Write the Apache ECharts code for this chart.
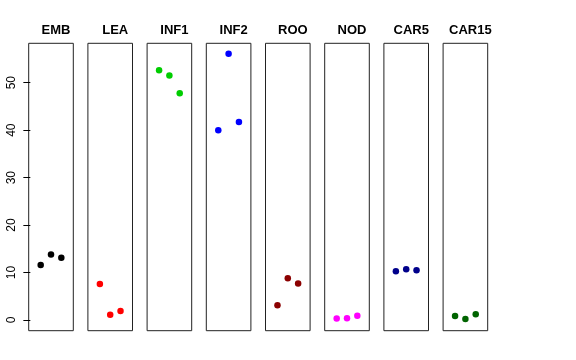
<!DOCTYPE html>
<html>
<head>
<meta charset="utf-8">
<script src="https://cdn.jsdelivr.net/npm/echarts@6/dist/echarts.min.js"></script>
<style>html,body{margin:0;padding:0;background:#fff}#c{width:576px;height:360px}</style>
</head>
<body>
<div id="c"></div>
<script>
var categories = ['EMB', 'LEA', 'INF1', 'INF2', 'ROO', 'NOD', 'CAR5', 'CAR15'];
var replicates = [1, 2, 3];
var EMB = [11.6, 13.8, 13.1];
var LEA = [7.6, 1.1, 1.9];
var INF1 = [52.6, 51.5, 47.8];
var INF2 = [40.0, 56.1, 41.7];
var ROO = [3.1, 8.8, 7.7];
var NOD = [0.3, 0.35, 0.9];
var CAR5 = [10.3, 10.7, 10.5];
var CAR15 = [0.85, 0.2, 1.2];
var yTicks = [0, 10, 20, 30, 40, 50];
var colors = ['#000000', '#FF0000', '#00CD00', '#0000FF', '#8B0000', '#FF00FF', '#00008B', '#006400'];
var groups = [EMB, LEA, INF1, INF2, ROO, NOD, CAR5, CAR15];

(function () {
  var chart = echarts.init(document.getElementById('c'));
  var grids = [], xAxes = [], yAxes = [], series = [], titles = [];
  var left0 = 28.7, pitch = 59.2, pw = 44.6, ptop = 43.3, ph = 287.4;
  categories.forEach(function (name, i) {
    var l = left0 + i * pitch;
    grids.push({left: l, top: ptop, width: pw, height: ph, show: true, borderColor: '#222', borderWidth: 1, backgroundColor: 'transparent'});
    xAxes.push({gridIndex: i, type: 'value', min: -0.16, max: 4.16, show: false});
    yAxes.push({
      gridIndex: i, type: 'value', min: -2.25, max: 58.3, show: i === 0,
      splitLine: {show: false}, axisLine: {show: false},
      axisTick: {show: true, inside: false, length: 7, lineStyle: {color: '#000'}, customValues: yTicks},
      axisLabel: {show: true, rotate: 90, margin: 11, fontSize: 12, color: '#000', fontFamily: 'Liberation Sans, Arial, sans-serif', customValues: yTicks}
    });
    series.push({
      type: 'scatter', xAxisIndex: i, yAxisIndex: i, symbol: 'circle', symbolSize: 6.5,
      itemStyle: {color: colors[i], opacity: 1},
      data: groups[i].map(function (v, k) { return [replicates[k], v]; })
    });
    titles.push({text: name, left: l + pw / 2, top: 19, textAlign: 'center',
      textStyle: {fontSize: 13, fontWeight: 'bold', color: '#000', fontFamily: 'Liberation Sans, Arial, sans-serif'}});
  });
  chart.setOption({animation: false, title: titles, grid: grids, xAxis: xAxes, yAxis: yAxes, series: series});
})();
</script>
</body>
</html>
